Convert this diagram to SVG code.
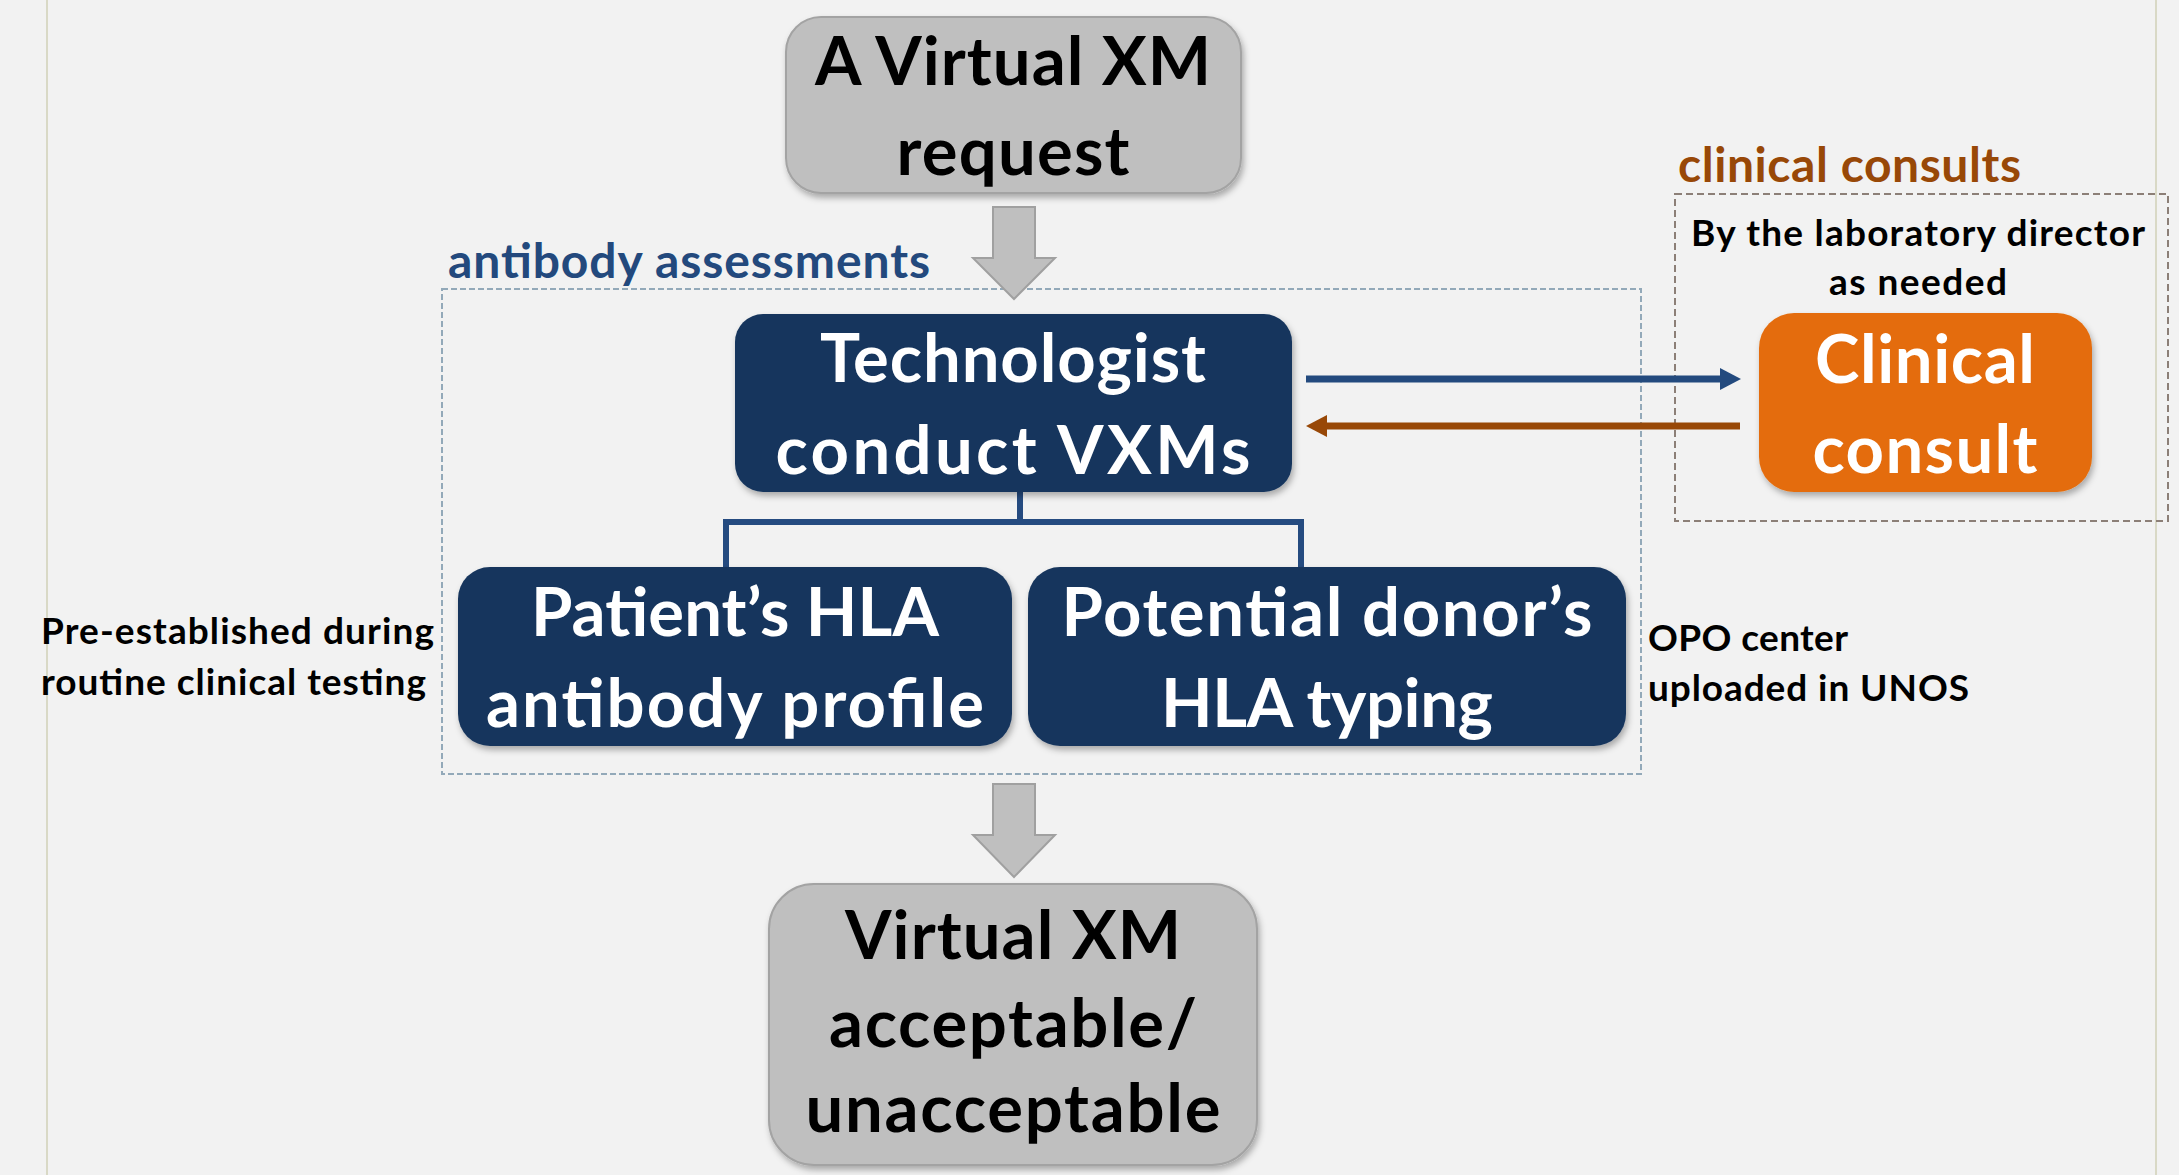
<svg xmlns="http://www.w3.org/2000/svg" width="2179" height="1175" viewBox="0 0 2179 1175">
<defs>
<style>
.big{font-family:Lato,"Open Sans","Liberation Sans",sans-serif;font-weight:bold;font-size:67px;text-anchor:middle}
.w{fill:#ffffff}
.k{fill:#000000}
.note{font-family:Lato,"Open Sans","Liberation Sans",sans-serif;font-weight:bold;font-size:37px;fill:#000000}
.head{font-family:Lato,"Open Sans","Liberation Sans",sans-serif;font-weight:bold;font-size:48px}
.navy{fill:#17365d}
.gray{fill:#bfbfbf;stroke:#a3a3a3;stroke-width:2}
.blockarrow{fill:#bfbfbf;stroke:#a0a0a0;stroke-width:2}
</style>
<filter id="sh" x="-10%" y="-10%" width="120%" height="130%">
<feDropShadow dx="2" dy="4" stdDeviation="3" flood-color="#000" flood-opacity="0.3"/>
</filter>
<marker id="ahB" markerUnits="userSpaceOnUse" markerWidth="22" markerHeight="24" refX="2" refY="12" orient="auto">
<path d="M0,1 L21,12 L0,23 Z" fill="#234a7e"/>
</marker>
<marker id="ahR" markerUnits="userSpaceOnUse" markerWidth="22" markerHeight="24" refX="2" refY="12" orient="auto">
<path d="M0,1 L21,12 L0,23 Z" fill="#984807"/>
</marker>
</defs>
<rect x="0" y="0" width="2179" height="1175" fill="#f2f2f2"/>
<line x1="47" y1="0" x2="47" y2="1175" stroke="#d9d9c6" stroke-width="2"/>
<line x1="2156" y1="0" x2="2156" y2="1175" stroke="#d9d9c6" stroke-width="2"/>

<g id="group-antibody">
<rect x="442" y="289" width="1199" height="485" fill="none" stroke="#93a9b9" stroke-width="2" stroke-dasharray="6 3"/>
<text class="head" x="448" y="278" fill="#23497d" textLength="482">antibody assessments</text>
</g>
<g id="group-clinical">
<rect x="1675" y="194" width="493" height="327" fill="none" stroke="#8c7f77" stroke-width="2" stroke-dasharray="7 4"/>
<text class="head" x="1678" y="182" fill="#984807" textLength="343">clinical consults</text>
<text class="note" x="1918" y="246" text-anchor="middle" textLength="454">By the laboratory director</text>
<text class="note" x="1918" y="295" text-anchor="middle" textLength="178">as needed</text>
</g>

<g id="connectors">
<path class="blockarrow" d="M993,207 H1035 V258 H1055 L1014,299 L973,258 H993 Z"/>
<path class="blockarrow" d="M993,784 H1035 V835 H1055 L1014,877 L973,835 H993 Z"/>
<path d="M1020,492 V522 M726,568 V522 H1301 V568" fill="none" stroke="#254b80" stroke-width="6"/>
<line x1="1306" y1="379" x2="1722" y2="379" stroke="#234a7e" stroke-width="7" marker-end="url(#ahB)"/>
<line x1="1740" y1="426" x2="1325" y2="426" stroke="#984807" stroke-width="7" marker-end="url(#ahR)"/>
</g>

<g id="node-request">
<rect class="gray" x="786" y="17" width="455" height="176" rx="35" filter="url(#sh)"/>
<text class="big k" x="1013" y="85" textLength="396">A Virtual XM</text>
<text class="big k" x="1013" y="175" textLength="233">request</text>
</g>

<g id="node-technologist">
<rect class="navy" x="735" y="314" width="557" height="178" rx="28" filter="url(#sh)"/>
<text class="big w" x="1013" y="382" textLength="386">Technologist</text>
<text class="big w" x="1013" y="474" textLength="475">conduct VXMs</text>
</g>

<g id="node-clinical">
<rect x="1759" y="313" width="333" height="179" rx="35" fill="#e46c0a" filter="url(#sh)"/>
<text class="big w" x="1925" y="383" textLength="220">Clinical</text>
<text class="big w" x="1925" y="473" textLength="225">consult</text>
</g>

<g id="node-patient">
<rect class="navy" x="458" y="567" width="554" height="179" rx="32" filter="url(#sh)"/>
<text class="big w" x="735" y="636" textLength="408">Patient’s HLA</text>
<text class="big w" x="735" y="727" textLength="498">antibody profile</text>
</g>

<g id="node-donor">
<rect class="navy" x="1028" y="567" width="598" height="179" rx="32" filter="url(#sh)"/>
<text class="big w" x="1327" y="636" textLength="531">Potential donor’s</text>
<text class="big w" x="1327" y="727" textLength="332">HLA typing</text>
</g>

<g id="note-preestablished">
<text class="note" x="41" y="644" textLength="393">Pre-established during</text>
<text class="note" x="41" y="695" textLength="385">routine clinical testing</text>
</g>

<g id="note-opo">
<text class="note" x="1648" y="651" textLength="200">OPO center</text>
<text class="note" x="1648" y="701" textLength="321">uploaded in UNOS</text>
</g>

<g id="node-result">
<rect class="gray" x="769" y="884" width="488" height="281" rx="45" filter="url(#sh)"/>
<text class="big k" x="1013" y="959" textLength="336">Virtual XM</text>
<text class="big k" x="1013" y="1047" textLength="368">acceptable/</text>
<text class="big k" x="1013" y="1132" textLength="415">unacceptable</text>
</g>
</svg>
